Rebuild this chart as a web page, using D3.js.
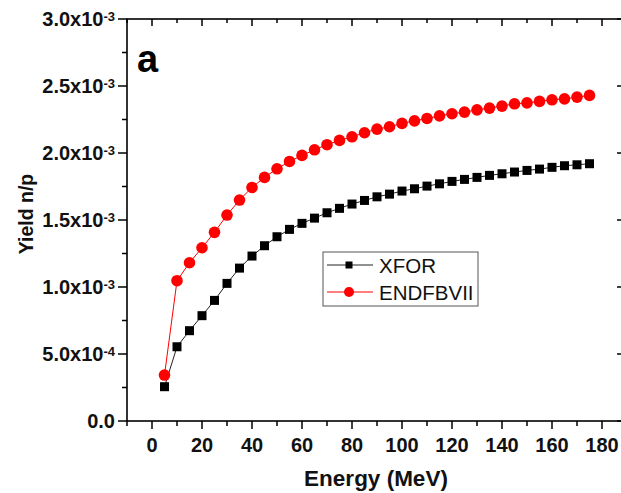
<!DOCTYPE html>
<html>
<head>
<meta charset="utf-8">
<script src="https://cdn.jsdelivr.net/npm/d3@7"></script>
<style>
  body { margin: 0; background: #fff; }
  svg text { font-family: Arial, "Liberation Sans", sans-serif; }
</style>
</head>
<body>
<svg width="621" height="493"></svg>
<script>
const energy = [5, 10, 15, 20, 25, 30, 35, 40, 45, 50, 55, 60, 65, 70, 75, 80, 85, 90,
  95, 100, 105, 110, 115, 120, 125, 130, 135, 140, 145, 150, 155, 160, 165, 170, 175];
const xfor = [0.256, 0.554, 0.674, 0.786, 0.900, 1.027, 1.141, 1.231, 1.308, 1.375, 1.430, 1.475,
  1.514, 1.554, 1.587, 1.619, 1.646, 1.673, 1.693, 1.716, 1.733, 1.753, 1.770, 1.788, 1.803,
  1.818, 1.833, 1.845, 1.858, 1.870, 1.880, 1.893, 1.905, 1.912, 1.920].map(v => v * 1e-3);
const endf = [0.343, 1.047, 1.181, 1.293, 1.408, 1.537, 1.649, 1.743, 1.818, 1.882, 1.937, 1.982,
  2.024, 2.062, 2.094, 2.121, 2.151, 2.178, 2.196, 2.221, 2.240, 2.258, 2.277, 2.293, 2.305,
  2.322, 2.335, 2.350, 2.367, 2.374, 2.385, 2.397, 2.404, 2.417, 2.430].map(v => v * 1e-3);
const xTicks = [0, 20, 40, 60, 80, 100, 120, 140, 160, 180];
const yTicks = [0, 0.5e-3, 1.0e-3, 1.5e-3, 2.0e-3, 2.5e-3, 3.0e-3];
const yTickLabels = ['0.0', '5.0x10|-4', '1.0x10|-3', '1.5x10|-3', '2.0x10|-3', '2.5x10|-3', '3.0x10|-3'];
const seriesNames = ['XFOR', 'ENDFBVII'];

const svg = d3.select('svg');
const pLeft = 127, pRight = 627, pTop = 19, pBottom = 421;

const x = d3.scaleLinear().domain([-10, 190]).range([pLeft, pRight]);
const y = d3.scaleLinear().domain([0, 3.0e-3]).range([pBottom, pTop]);

// frame
svg.append('rect')
  .attr('x', pLeft).attr('y', pTop)
  .attr('width', pRight - pLeft).attr('height', pBottom - pTop)
  .attr('fill', 'none').attr('stroke', '#000').attr('stroke-width', 1.6);

const minorX = d3.range(-10, 191, 10).filter(d => d % 20 !== 0);
const minorY = d3.range(0.25e-3, 3.0e-3, 0.5e-3);

function ticks(data, horiz, pos, len) {
  svg.append('g').selectAll('line').data(data).join('line')
    .attr('x1', d => horiz ? x(d) : pos).attr('x2', d => horiz ? x(d) : pos + len)
    .attr('y1', d => horiz ? pos : y(d)).attr('y2', d => horiz ? pos + len : y(d))
    .attr('stroke', '#000').attr('stroke-width', 1.5);
}
// bottom (outward), top (inward), left (outward), right (inward)
ticks(xTicks, true, pBottom, 8);
ticks(minorX, true, pBottom, 5);
ticks(xTicks, true, pTop, 7);
ticks(minorX, true, pTop, 4);
ticks(yTicks, false, pLeft, -9);
ticks(minorY, false, pLeft, -5);
ticks(yTicks, false, pRight, -10);
ticks(minorY, false, pRight, -6);

// x tick labels
svg.append('g').selectAll('text').data(xTicks).join('text')
  .attr('x', d => x(d)).attr('y', 452)
  .attr('text-anchor', 'middle')
  .attr('font-size', 20).attr('font-weight', 'bold')
  .attr('fill', '#111')
  .text(d => d);

// y tick labels with superscript exponents
svg.append('g').selectAll('text').data(yTicks).join('text')
  .attr('x', 115).attr('y', d => y(d) + 7)
  .attr('text-anchor', 'end')
  .attr('font-size', 20).attr('font-weight', 'bold')
  .attr('fill', '#111')
  .each(function(d, i) {
    const parts = yTickLabels[i].split('|');
    const t = d3.select(this);
    t.append('tspan').text(parts[0]);
    if (parts[1]) {
      t.append('tspan').attr('dy', -5).attr('font-size', 13).text(parts[1]);
    }
  });

// axis titles
svg.append('text')
  .attr('x', 376).attr('y', 486)
  .attr('text-anchor', 'middle')
  .attr('font-size', 22.5).attr('font-weight', 'bold')
  .attr('fill', '#111')
  .text('Energy (MeV)');
svg.append('text')
  .attr('transform', 'translate(33,214) rotate(-90)')
  .attr('text-anchor', 'middle')
  .attr('font-size', 19.5).attr('font-weight', 'bold')
  .attr('fill', '#111')
  .text('Yield n/p');

// panel letter
svg.append('text')
  .attr('x', 137).attr('y', 72)
  .attr('font-family', '"Open Sans", sans-serif')
  .attr('font-size', 38).attr('font-weight', 'bold')
  .attr('fill', '#000')
  .text('a');

// series
const line = d3.line().x(d => x(d[0])).y(d => y(d[1]));
const blackData = energy.map((e, i) => [e, xfor[i]]);
const redData = energy.map((e, i) => [e, endf[i]]);

svg.append('path').datum(blackData)
  .attr('d', line).attr('fill', 'none').attr('stroke', '#222').attr('stroke-width', 1);
svg.append('path').datum(redData)
  .attr('d', line).attr('fill', 'none').attr('stroke', '#f00').attr('stroke-width', 1);

svg.append('g').selectAll('rect').data(blackData).join('rect')
  .attr('x', d => x(d[0]) - 4.5).attr('y', d => y(d[1]) - 4.5)
  .attr('width', 9).attr('height', 9)
  .attr('fill', '#000');
svg.append('g').selectAll('circle').data(redData).join('circle')
  .attr('cx', d => x(d[0])).attr('cy', d => y(d[1]))
  .attr('r', 5.8)
  .attr('fill', '#f00');

// legend
const lg = svg.append('g').attr('transform', 'translate(323,252)');
lg.append('rect').attr('width', 155).attr('height', 54)
  .attr('fill', '#fff').attr('stroke', '#555').attr('stroke-width', 1);
seriesNames.forEach((name, i) => {
  const cy = 13 + i * 27;
  const col = i === 0 ? '#222' : '#f00';
  lg.append('line').attr('x1', 4).attr('x2', 50).attr('y1', cy).attr('y2', cy)
    .attr('stroke', col).attr('stroke-width', 1);
  if (i === 0) {
    lg.append('rect').attr('x', 22.5).attr('y', cy - 3.5).attr('width', 7).attr('height', 7).attr('fill', '#000');
  } else {
    lg.append('circle').attr('cx', 26).attr('cy', cy).attr('r', 5).attr('fill', '#f00');
  }
  lg.append('text').attr('x', 56).attr('y', cy + 8)
    .attr('font-size', 20.5).attr('fill', '#111')
    .text(name);
});
</script>
</body>
</html>
